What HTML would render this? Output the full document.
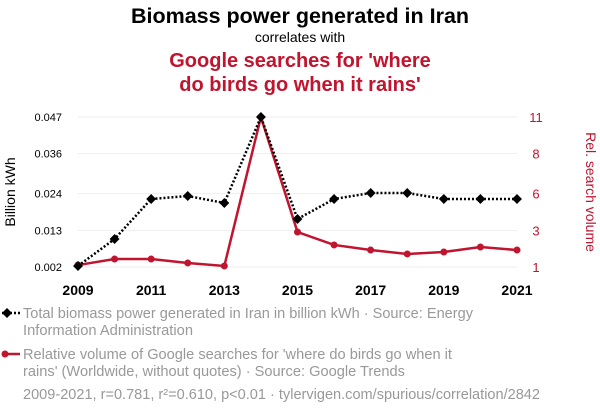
<!DOCTYPE html>
<html><head><meta charset="utf-8"><style>
body{margin:0;background:#fff;font-family:"Liberation Sans",sans-serif;}
svg text{font-family:"Liberation Sans",sans-serif;}
</style></head><body>
<svg width="600" height="414" viewBox="0 0 600 414" xmlns="http://www.w3.org/2000/svg">
<text x="300" y="23" text-anchor="middle" font-size="21.5" font-weight="bold" fill="#000">Biomass power generated in Iran</text>
<text x="300" y="42" text-anchor="middle" font-size="14" fill="#000">correlates with</text>
<text x="300" y="67" text-anchor="middle" font-size="20" font-weight="bold" fill="#c0142f">Google searches for 'where</text>
<text x="300" y="91" text-anchor="middle" font-size="20" font-weight="bold" fill="#c0142f">do birds go when it rains'</text>
<g id="grid"></g>
<g id="axes"></g>
<text transform="translate(15,192) rotate(-90)" text-anchor="middle" font-size="14" fill="#000">Billion kWh</text>
<text transform="translate(586,192) rotate(90)" text-anchor="middle" font-size="14" fill="#c0142f">Rel. search volume</text>
<g id="series"></g>
<g>
<line x1="2" y1="313" x2="20" y2="313" stroke="#000" stroke-width="2.5" stroke-dasharray="2,2"/>
<rect x="3.5" y="309.5" width="7" height="7" transform="rotate(45 7 313)" fill="#000"/>
<text x="23" y="318" font-size="14.5" fill="#999" textLength="450" lengthAdjust="spacingAndGlyphs">Total biomass power generated in Iran in billion kWh · Source: Energy</text>
<text x="23" y="335" font-size="14.5" fill="#999" textLength="170" lengthAdjust="spacingAndGlyphs">Information Administration</text>
</g>
<g>
<line x1="2" y1="354" x2="20" y2="354" stroke="#c0142f" stroke-width="2.5"/>
<circle cx="5" cy="354" r="3.5" fill="#c0142f"/>
<text x="23" y="359" font-size="14.5" fill="#999" textLength="429" lengthAdjust="spacingAndGlyphs">Relative volume of Google searches for 'where do birds go when it</text>
<text x="23" y="376" font-size="14.5" fill="#999" textLength="382" lengthAdjust="spacingAndGlyphs">rains' (Worldwide, without quotes) · Source: Google Trends</text>
</g>
<text x="23" y="399" font-size="14.5" fill="#999" textLength="517" lengthAdjust="spacingAndGlyphs">2009-2021, r=0.781, r²=0.610, p&lt;0.01 · tylervigen.com/spurious/correlation/2842</text>
</svg>
<script>
const years=[2009,2010,2011,2012,2013,2014,2015,2016,2017,2018,2019,2020,2021];
const biomass=[0.0023,0.0104,0.0224,0.0233,0.0212,0.047,0.0164,0.0224,0.0242,0.0242,0.0224,0.0224,0.0224];
const searches=[1.13,1.53,1.53,1.27,1.07,11,3.33,2.47,2.13,1.87,2,2.33,2.13];
const leftTicks=[0.002,0.013,0.024,0.036,0.047];
const leftTickLabels=["0.002","0.013","0.024","0.036","0.047"];
const rightTickLabels=["1","3","6","8","11"];
const xTicks=[2009,2011,2013,2015,2017,2019,2021];
const NS="http://www.w3.org/2000/svg";
const x=v=>78+(v-2009)/12*439;
const yL=v=>267-(v-0.002)/0.045*150;
const yR=v=>267-(v-1)/10*150;
function mk(tag,attrs,parent,txt){const e=document.createElementNS(NS,tag);for(const k in attrs)e.setAttribute(k,attrs[k]);if(txt!==undefined)e.textContent=txt;parent.appendChild(e);return e;}
const grid=document.getElementById('grid'),axes=document.getElementById('axes'),series=document.getElementById('series');
leftTicks.forEach((t,i)=>{
  const g=mk('line',{x1:78,x2:517,y1:yL(t),y2:yL(t),stroke:'#eee','stroke-width':1},grid);
  
  
  const l=mk('text',{x:62,y:yL(t)+4,'text-anchor':'end','font-size':11,fill:'#000'},axes,leftTickLabels[i]);
  
  
  const r=mk('text',{x:536,y:yL(t)+5,'text-anchor':'middle','font-size':13,fill:'#c0142f'},axes,rightTickLabels[i]);
  
  
});
xTicks.forEach(t=>{
  const l=mk('text',{x:x(t),y:295,'text-anchor':'middle','font-size':14,'font-weight':'bold',fill:'#000'},axes,String(t));
  
  
});
const rl=mk('polyline',{points:years.map((y,i)=>x(y)+','+yR(searches[i])).join(' '),fill:'none',stroke:'#c0142f','stroke-width':2.5},series);


years.forEach((y,i)=>{
  const c=mk('circle',{cx:x(y),cy:yR(searches[i]),r:3.5,fill:'#c0142f'},series);
  
  
});
const bl=mk('polyline',{points:years.map((y,i)=>x(y)+','+yL(biomass[i])).join(' '),fill:'none',stroke:'#000','stroke-width':2.5,'stroke-dasharray':'2,2'},series);


years.forEach((y,i)=>{
  const cx=x(y),cy=yL(biomass[i]);
  const d=mk('rect',{x:cx-3.5,y:cy-3.5,width:7,height:7,transform:`rotate(45 ${cx} ${cy})`,fill:'#000'},series);
  
  
});
</script>
</body></html>
